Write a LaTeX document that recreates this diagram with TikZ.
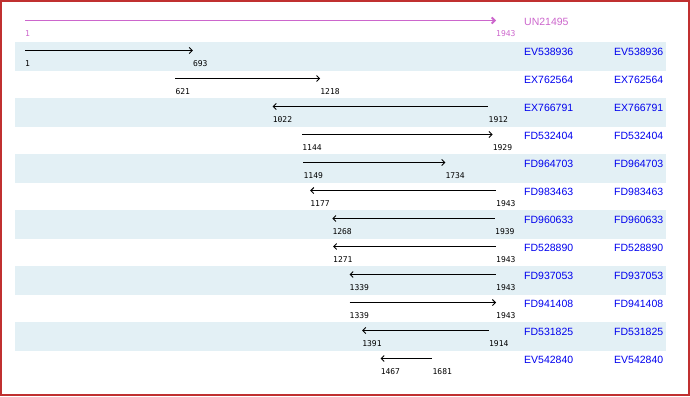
\documentclass[tikz,border=0pt]{standalone}
\usepackage{fontspec}
\setmainfont{Liberation Sans}
\newfontfamily\numfont{DejaVu Sans Mono}
\usetikzlibrary{arrows.meta}
\definecolor{bandblue}{HTML}{E3F0F5}
\definecolor{framered}{RGB}{192,48,48}
\definecolor{titlepurple}{HTML}{CC66CC}
\definecolor{nameblue}{HTML}{0000EE}
\tikzset{
  frame/.style={draw=framered,line width=1.5bp},
  band/.style={fill=bandblue},
  hit/.style={line width=0.9bp,black},
  tip/.style={-{Straight Barb[length=3bp,width=6bp]}},
  revtip/.style={{Straight Barb[length=3bp,width=6bp]}-},
  numlbl/.style={inner sep=0pt,anchor=west,font=\numfont\fontsize{8bp}{9bp}\selectfont},
  namelbl/.style={inner sep=0pt,anchor=west,text=nameblue,font=\fontsize{10.5bp}{12bp}\selectfont},
}
\begin{document}
\begin{tikzpicture}[x=1bp,y=-1bp]
\useasboundingbox (0,0) rectangle (690,396);
\draw[frame] (0.75,0.75) rectangle (689,395);
% title row
\coordinate (t0) at (25,20.5);
\coordinate (t1) at (496,20.5);
\draw[line width=1.8bp,titlepurple,tip] (t0) -- (t1);
\node[numlbl,text=titlepurple] (tl0) at (25,33.5) {1};
\node[numlbl,text=titlepurple] (tl1) at (496,33.5) {1943};
\node[namelbl,text=titlepurple] (title) at (524,22) {UN21495};
% hit rows
\foreach \i/\a/\b/\d/\n in {
  1/1/693/f/EV538936,
  2/621/1218/f/EX762564,
  3/1022/1912/r/EX766791,
  4/1144/1929/f/FD532404,
  5/1149/1734/f/FD964703,
  6/1177/1943/r/FD983463,
  7/1268/1939/r/FD960633,
  8/1271/1943/r/FD528890,
  9/1339/1943/r/FD937053,
  10/1339/1943/f/FD941408,
  11/1391/1914/r/FD531825,
  12/1467/1681/r/EV542840}{
  \pgfmathsetmacro\xa{25+(\a-1)*0.2425335}
  \pgfmathsetmacro\xb{25+(\b-1)*0.2425335}
  \pgfmathsetmacro\rowtop{42+28*(\i-1)}
  \pgfmathsetmacro\ya{\rowtop+8.5}
  \ifodd\i\relax
    \fill[band] (15,\rowtop) rectangle (666,\rowtop+28.5);
  \fi
  \coordinate (a\i) at (\xa,\ya);
  \coordinate (b\i) at (\xb,\ya);
  \if\d f
    \draw[hit,tip] (a\i) -- (b\i);
  \else
    \draw[hit,revtip] (a\i) -- (b\i);
  \fi
  \node[numlbl] (la\i) at (\xa,\ya+13) {\a};
  \node[numlbl] (lb\i) at (\xb,\ya+13) {\b};
  \node[namelbl] (n\i) at (524,\ya+1.5) {\n};
  \node[namelbl] (m\i) at (614,\ya+1.5) {\n};
}
\end{tikzpicture}
\end{document}
